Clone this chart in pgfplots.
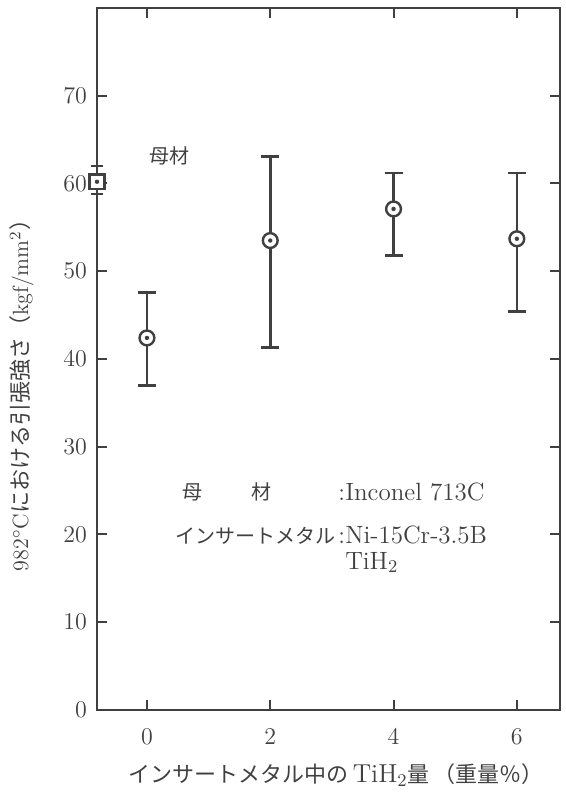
\documentclass[border=0pt]{standalone}
\usepackage{pgfplots}
\pgfplotsset{compat=1.18}
\usepackage{fontspec}
\newfontfamily\jp{Noto Sans CJK JP}
\definecolor{ink}{gray}{0.25}
\newcommand\jpx{\jp\fontsize{11}{13}\selectfont}

% circle with a dot, square with a dot
\pgfdeclareplotmark{codot}{%
  \pgfpathcircle{\pgfpointorigin}{\pgfplotmarksize}%
  \pgfusepathqfillstroke
  \begin{pgfscope}
  \pgfpathcircle{\pgfpointorigin}{1.1pt}%
  \pgfsetfillcolor{ink}\pgfusepathqfill
  \end{pgfscope}}
\pgfdeclareplotmark{csquare}{%
  \pgfpathrectangle{\pgfpoint{-\pgfplotmarksize}{-\pgfplotmarksize}}{\pgfpoint{2\pgfplotmarksize}{2\pgfplotmarksize}}%
  \pgfusepathqfillstroke
  \begin{pgfscope}
  \pgfpathcircle{\pgfpointorigin}{1.1pt}%
  \pgfsetfillcolor{ink}\pgfusepathqfill
  \end{pgfscope}}

\begin{document}
\begin{tikzpicture}
\begin{axis}[
    scale only axis, width=231.5pt, height=351pt,
    xmin=-0.81, xmax=6.7, ymin=0, ymax=80,
    xtick={0,2,4,6}, ytick={0,10,...,70},
    tick align=inside, major tick length=5pt,
    axis line style={line width=1.3pt, ink},
    tick style={line width=1pt, ink},
    ticklabel style={font=\fontsize{11.5}{13}\selectfont, text=ink},
    xticklabel style={yshift=-6pt},
    yticklabel style={xshift=-1.5pt},
    clip=false,
    xlabel={{\jpx インサートメタル中の}\,TiH$_2${\jpx 量\,（重量％）}},
    ylabel={982$^\circ$C{\jp における引張強さ（}kgf/mm$^2${\jp ）}},
    xlabel style={font=\fontsize{13}{15}\selectfont, text=ink,
        at={(axis description cs:0.516,-0.0926)}, anchor=center},
    ylabel style={font=\fontsize{11}{13}\selectfont, text=ink,
        at={(axis description cs:-0.163,0.456)}, anchor=center},
]
% mean with asymmetric error bars
\addplot[ink, only marks, mark=codot, mark size=3.7pt,
    mark options={fill=white, line width=1.2pt},
    error bars/.cd, y dir=both, y explicit,
    error bar style={line width=1.3pt, ink},
    error mark options={rotate=90, mark size=4.5pt, line width=1.3pt, ink}]
coordinates {
    (0,42.4) += (0,5.2) -= (0,5.4)
    (2,53.5) += (0,9.6) -= (0,12.2)
    (4,57.1) += (0,4.1) -= (0,5.3)
    (6,53.7) += (0,7.5) -= (0,8.3)
};
% base metal
\addplot[ink, only marks, mark=csquare, mark size=3.7pt,
    mark options={fill=white, line width=1.2pt},
    error bars/.cd, y dir=both, y explicit,
    error bar style={line width=1.3pt, ink},
    error mark options={rotate=90, mark size=2.8pt, line width=1.3pt, ink}]
coordinates {(-0.81,60.2) += (0,1.8) -= (0,1.4)};

\node[text=ink, font=\jp\fontsize{10}{12}\selectfont] at (axis cs:0.37,63.1) {母材};
\begin{scope}[every node/.style={text=ink, inner sep=0pt, font=\fontsize{12.5}{14}\selectfont}]
\node[anchor=west, font=\jp\fontsize{10}{12}\selectfont] at (axis cs:0.57,24.8) {母};
\node[anchor=west, font=\jp\fontsize{10}{12}\selectfont] at (axis cs:1.69,24.8) {材};
\node[anchor=west] at (axis cs:3.10,24.8) {:Inconel 713C};
\node[anchor=east, font=\jp\fontsize{10}{12}\selectfont] at (axis cs:3.07,19.9) {インサートメタル};
\node[anchor=west] at (axis cs:3.10,19.9) {:Ni-15Cr-3.5B};
\node[anchor=west] at (axis cs:3.10,16.8) {\phantom{:}TiH$_2$};
\end{scope}
\end{axis}
\path ([xshift=-48.5pt,yshift=-42pt]current axis.south west) rectangle ([xshift=2.5pt,yshift=4pt]current axis.north east);
\end{tikzpicture}
\end{document}
